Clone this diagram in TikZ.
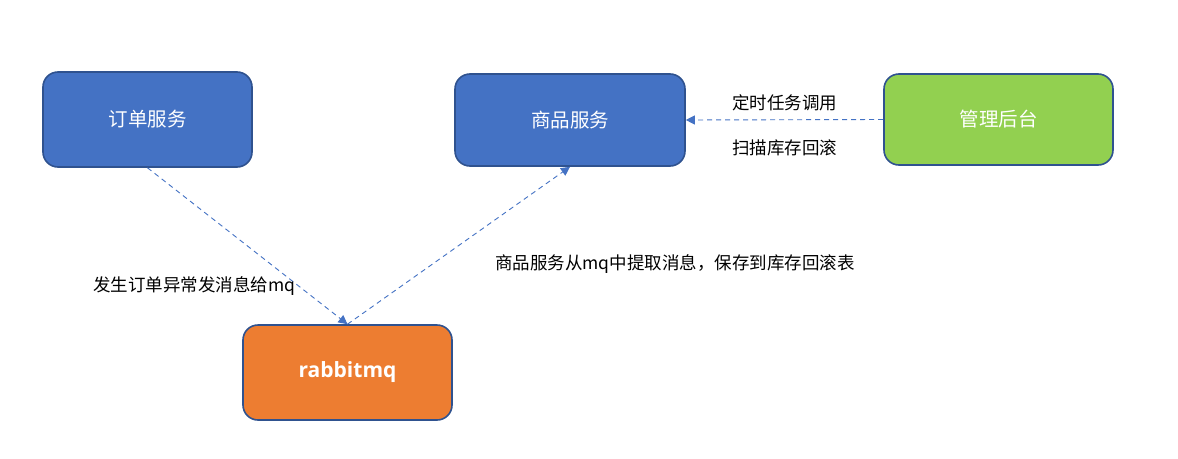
\documentclass[tikz,border=0pt]{standalone}
\usepackage{fontspec}
\setmainfont{Noto Sans CJK SC}
\newfontfamily\latinfont{Open Sans}
\usetikzlibrary{arrows.meta}
\definecolor{boxblue}{HTML}{4472C4}
\definecolor{boxedge}{HTML}{2F528F}
\definecolor{boxgreen}{HTML}{92D050}
\definecolor{boxorange}{HTML}{ED7D31}
\definecolor{linkblue}{HTML}{4472C4}
\tikzset{
  box/.style={draw=boxedge, line width=1.6pt, rounded corners=15pt, text=white,
    inner sep=0pt, font=\fontsize{19.5}{22}\selectfont},
  link/.style={draw=linkblue, line width=0.9pt, dash pattern=on 5pt off 4pt,
    -{Triangle[length=9pt,width=9pt]}},
  lbl/.style={inner sep=0pt, font=\fontsize{17.5}{20}\selectfont, text=black}
}
\begin{document}
\begin{tikzpicture}[x=1pt,y=-1pt]
\useasboundingbox (0,0) rectangle (1178,458);
\fill[white] (0,0) rectangle (1178,458);
\node[box, fill=boxblue, minimum width=209pt, minimum height=95pt] (a) at (147.5,119.5) {订单服务};
\node[box, fill=boxblue, minimum width=230pt, minimum height=92pt] (b) at (570,120) {商品服务};
\node[box, fill=boxgreen, minimum width=229pt, minimum height=91pt] (c) at (998.5,119.5) {管理后台};
\node[box, fill=boxorange, minimum width=209pt, minimum height=95pt, font=\latinfont\bfseries\fontsize{21}{24}\selectfont] (d) at (347.5,372.5) {rabbitmq};
\draw[link] (a.south) -- (d.north);
\draw[link] (d.north) -- (b.south);
\draw[link] (c.west) -- (b.east);
\node[lbl] (l1) at (194.5,286) {发生订单异常发消息给mq};
\node[lbl] (l2) at (675,264) {商品服务从mq中提取消息，保存到库存回滚表};
\node[lbl] (l3) at (784.5,103) {定时任务调用};
\node[lbl] (l4) at (784.5,148) {扫描库存回滚};
\end{tikzpicture}
\end{document}
